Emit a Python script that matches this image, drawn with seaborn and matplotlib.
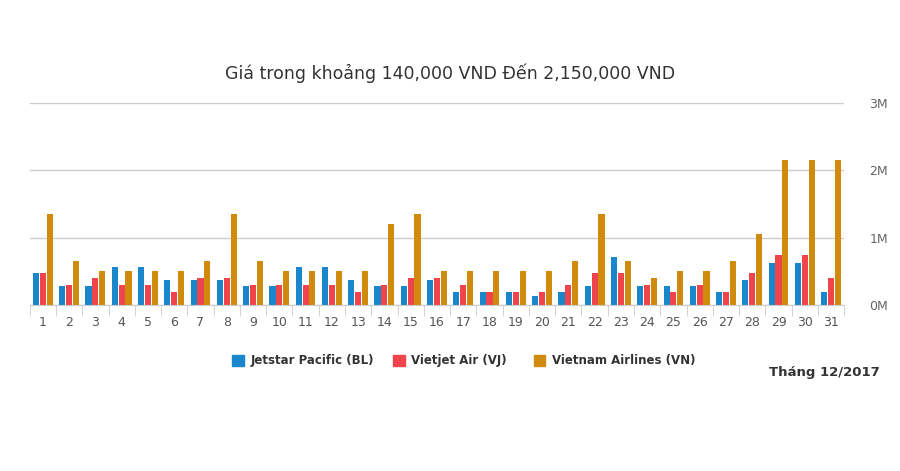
import matplotlib
matplotlib.use("Agg")
import matplotlib.pyplot as plt
import seaborn as sns
import pandas as pd

# Prices in millions VND, 1-31 Dec 2017
days = [str(d) for d in range(1, 32)]
jetstar = [0.48, 0.28, 0.28, 0.56, 0.56, 0.38, 0.38, 0.38, 0.28, 0.28, 0.56, 0.56, 0.38, 0.28, 0.28, 0.38,
           0.2, 0.2, 0.2, 0.14, 0.2, 0.28, 0.72, 0.28, 0.28, 0.28, 0.2, 0.38, 0.62, 0.62, 0.2]
vietjet = [0.48, 0.3, 0.4, 0.3, 0.3, 0.2, 0.4, 0.4, 0.3, 0.3, 0.3, 0.3, 0.2, 0.3, 0.4, 0.4,
           0.3, 0.2, 0.2, 0.2, 0.3, 0.48, 0.48, 0.3, 0.2, 0.3, 0.2, 0.48, 0.75, 0.75, 0.4]
vna = [1.35, 0.66, 0.5, 0.5, 0.5, 0.5, 0.66, 1.35, 0.66, 0.5, 0.5, 0.5, 0.5, 1.2, 1.35, 0.5,
       0.5, 0.5, 0.5, 0.5, 0.66, 1.35, 0.66, 0.4, 0.5, 0.5, 0.66, 1.05, 2.15, 2.15, 2.15]
series = ["Jetstar Pacific (BL)", "Vietjet Air (VJ)", "Vietnam Airlines (VN)"]
colors = ["#1a87cc", "#f0444c", "#d08a0e"]

df = pd.DataFrame({"day": days * 3,
                   "price": jetstar + vietjet + vna,
                   "airline": [series[0]] * 31 + [series[1]] * 31 + [series[2]] * 31})

fig = plt.figure(figsize=(9, 4.71), dpi=100)
ax = fig.add_axes([0.033, 0.352, 0.905, 0.43])
sns.barplot(data=df, x="day", y="price", hue="airline", palette=colors,
            width=0.78, gap=0.1, saturation=1, ax=ax, legend=False)

ax.set_ylim(0, 3)
ax.set_yticks([0, 1, 2, 3])
ax.set_yticklabels(["0M", "1M", "2M", "3M"])
ax.yaxis.tick_right()
ax.tick_params(axis="y", length=0, pad=18, labelsize=9, labelcolor="#666666")
ax.set_xticks([i - 0.5 for i in range(32)], minor=True)
ax.tick_params(axis="x", which="major", length=0, pad=8, labelsize=9, labelcolor="#555555")
ax.tick_params(axis="x", which="minor", length=8, color="#cccccc")
ax.grid(axis="y", color="#cccccc", linewidth=1)
ax.set_axisbelow(True)
for s in ["top", "left", "right"]:
    ax.spines[s].set_visible(False)
ax.spines["bottom"].set_color("#cccccc")
ax.set_xlim(-0.5, 30.5)
ax.set_xlabel("")
ax.set_ylabel("")

fig.text(0.5, 0.845, "Giá trong khoảng 140,000 VND Đến 2,150,000 VND",
         ha="center", va="center", fontsize=12.5, color="#333333")

# legend
lx = [0.258, 0.437, 0.593]
for x, name, c in zip(lx, series, colors):
    fig.patches.append(plt.Rectangle((x, 0.222), 0.013, 0.025, color=c,
                                     transform=fig.transFigure, figure=fig))
    fig.text(x + 0.02, 0.234, name, fontsize=8.5, fontweight="bold",
             color="#333333", va="center")
fig.text(0.977, 0.21, "Tháng 12/2017", fontsize=9.5, fontweight="bold",
         color="#333333", ha="right", va="center")

fig.savefig("out.png", dpi=100)
